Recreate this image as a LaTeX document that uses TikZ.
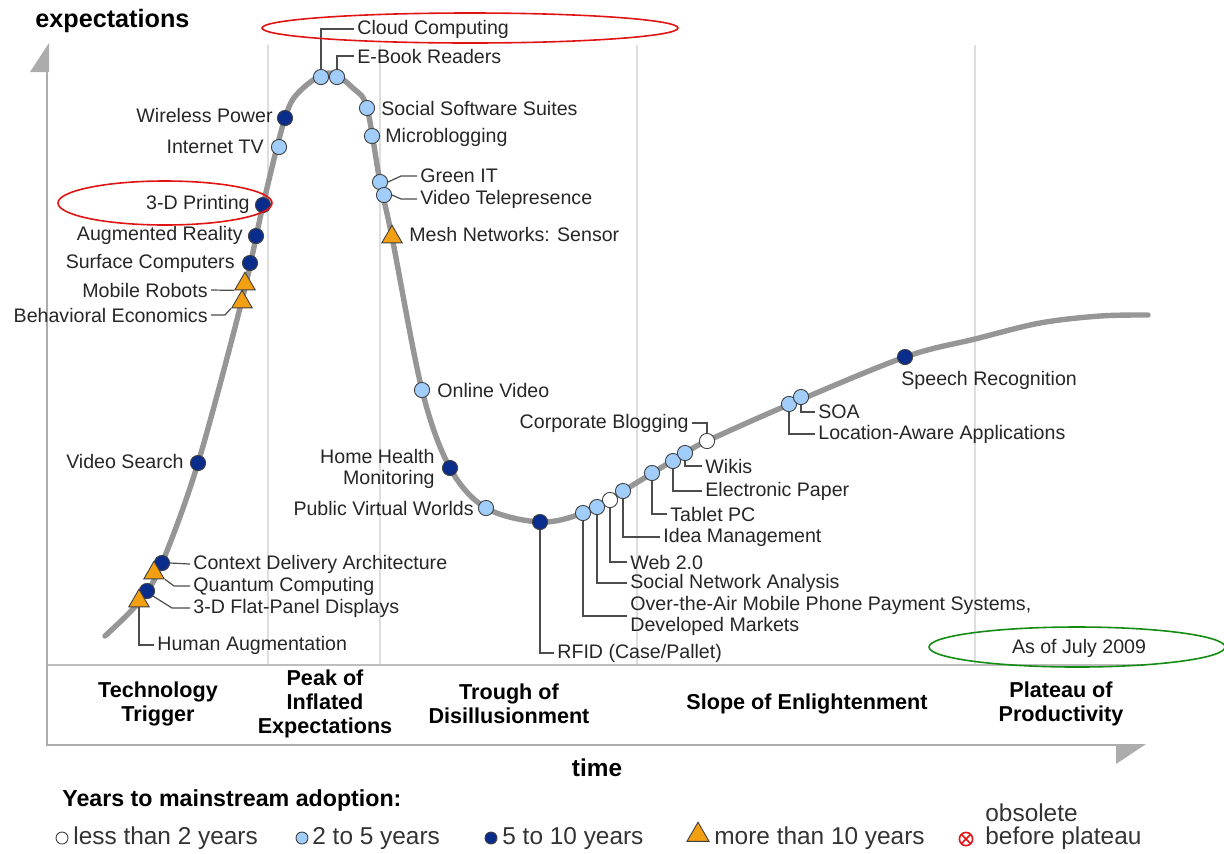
\documentclass[tikz,border=0pt]{standalone}
\usepackage{fontspec}
\setmainfont{Liberation Sans}
\usepackage{xcolor}
\usetikzlibrary{shapes.geometric}

\definecolor{curvegray}{RGB}{150,150,150}
\definecolor{axisgray}{RGB}{172,172,172}
\definecolor{sepgray}{RGB}{222,222,222}
\definecolor{lightdot}{RGB}{160,205,250}
\definecolor{darkdot}{RGB}{10,45,140}
\definecolor{tridot}{RGB}{242,160,18}
\definecolor{ringred}{RGB}{225,20,20}
\definecolor{ringgreen}{RGB}{20,140,20}

\tikzset{
  yrdot/.style={circle, draw=black!75, line width=0.45pt, inner sep=0pt, minimum size=7.6pt},
  yrtwo/.style={yrdot, fill=white},
  yrfive/.style={yrdot, fill=lightdot},
  yrten/.style={yrdot, fill=darkdot},
  yrmore/.style={regular polygon, regular polygon sides=3, draw=black!75, line width=0.45pt,
    fill=tridot, inner sep=0pt, minimum size=11.8pt},
  tag/.style={font=\fontsize{9.8}{10.8}\selectfont, text=black!85, inner sep=1.5pt},
  legtext/.style={font=\fontsize{12.2}{11.5}\selectfont, text=black!80, inner sep=0pt, anchor=west},
  phase/.style={font=\bfseries\fontsize{10.8}{12}\selectfont, align=center, inner sep=0pt},
  leader/.style={draw=black!70, line width=0.6pt},
  ring/.style={line width=0.8pt}
}

\begin{document}
\begin{tikzpicture}[x=0.5pt, y=-0.5pt]
  \useasboundingbox (0,0) rectangle (1224,853);

  % separators between the phases
  \foreach \sx in {268,380,637,975}
    \draw[sepgray, line width=1pt] (\sx,45) -- (\sx,665);

  % axes and phase box
  \draw[axisgray!80, line width=1pt] (46,665) -- (1145,665);
  \draw[axisgray, line width=1.4pt] (47,72) -- (47,745) -- (1116,745);
  \fill[axisgray] (30,72) -- (49,43) -- (49,72) -- cycle;
  \fill[axisgray] (1116,744) -- (1146,744) -- (1116,764) -- cycle;

  \node[font=\bfseries\fontsize{12.6}{14}\selectfont, anchor=west, inner sep=0pt] (ylab) at (35,21) {expectations};
  \node[font=\bfseries\fontsize{12.2}{14}\selectfont, inner sep=0pt] (xlab) at (597,768) {time};

  % phase names
  \node[phase] (trigger) at (158,704) {Technology\\Trigger};
  \node[phase] (peak) at (325,704) {Peak of\\Inflated\\Expectations};
  \node[phase] (trough) at (509,704) {Trough of\\Disillusionment};
  \node[phase] (slope) at (807,704) {Slope of Enlightenment};
  \node[phase] (plateau) at (1061,704) {Plateau of\\Productivity};

  % the hype curve
  \draw[curvegray, line width=2.7pt, line cap=round] plot[smooth, tension=0.55] coordinates {
    (105,636) (140,601) (162,563) (198,463) (242,300) (263,205) (285,118) (300,91)
    (329,73) (354,89) (367,108) (380,182) (392,237) (422,390) (450,468) (486,508)
    (540,522) (583,513) (623,491) (685,453) (707,441) (788,405) (905,357) (975,339)
    (1040,323) (1100,316) (1148,315)};

  % less than 2 years
  \node[yrtwo] (m-web) at (610,500) {};
  \node[yrtwo] (m-corp) at (707,441) {};
  % 2 to 5 years
  \node[yrfive] (m-internet) at (279,147) {};
  \node[yrfive] (m-cloud) at (321,77) {};
  \node[yrfive] (m-ebook) at (337,77) {};
  \node[yrfive] (m-social) at (367,108) {};
  \node[yrfive] (m-micro) at (372,136) {};
  \node[yrfive] (m-green) at (380,182) {};
  \node[yrfive] (m-tele) at (384,195) {};
  \node[yrfive] (m-onvideo) at (422,390) {};
  \node[yrfive] (m-pvw) at (486,508) {};
  \node[yrfive] (m-ota) at (583,513) {};
  \node[yrfive] (m-sna) at (597,507) {};
  \node[yrfive] (m-idea) at (623,491) {};
  \node[yrfive] (m-tablet) at (652,473) {};
  \node[yrfive] (m-epaper) at (673,461) {};
  \node[yrfive] (m-wikis) at (685,453) {};
  \node[yrfive] (m-loc) at (789,404) {};
  \node[yrfive] (m-soa) at (801,397) {};
  % 5 to 10 years
  \node[yrten] (m-flat) at (147,591) {};
  \node[yrten] (m-context) at (162,563) {};
  \node[yrten] (m-vsearch) at (198,463) {};
  \node[yrten] (m-surface) at (250,263) {};
  \node[yrten] (m-ar) at (256,236) {};
  \node[yrten] (m-print) at (263,205) {};
  \node[yrten] (m-wireless) at (285,118) {};
  \node[yrten] (m-homehealth) at (450,468) {};
  \node[yrten] (m-rfid) at (540,522) {};
  \node[yrten] (m-speech) at (905,357) {};
  % more than 10 years
  \node[yrmore] (m-human) at (139,601) {};
  \node[yrmore] (m-quantum) at (154,573) {};
  \node[yrmore] (m-behav) at (242,302) {};
  \node[yrmore] (m-mobile) at (245,284) {};
  \node[yrmore] (m-mesh) at (392,237) {};

  % labels, left of the curve
  \node[tag, anchor=east] (t-wireless) at (276,115) {Wireless Power};
  \node[tag, anchor=east] (t-internet) at (267,147) {Internet TV};
  \node[tag, anchor=east] (t-print) at (253,204) {3-D Printing};
  \node[tag, anchor=east] (t-ar) at (246,235) {Augmented Reality};
  \node[tag, anchor=east] (t-surface) at (238,263) {Surface Computers};
  \node[tag, anchor=east] (t-mobile) at (211,290) {Mobile Robots};
  \node[tag, anchor=east] (t-behav) at (211,315) {Behavioral Economics};
  \node[tag, anchor=east] (t-vsearch) at (187,461) {Video Search};
  \node[tag, anchor=east, align=right] (t-homehealth) at (438,469) {Home Health\\Monitoring};
  \node[tag, anchor=east] (t-pvw) at (477,508) {Public Virtual Worlds};
  \node[tag, anchor=east] (t-corp) at (692,423) {Corporate Blogging};

  % labels, right of the curve
  \node[tag, anchor=west] (t-cloud) at (354,29) {Cloud Computing};
  \node[tag, anchor=west] (t-ebook) at (354,56) {E-Book Readers};
  \node[tag, anchor=west] (t-social) at (378,108) {Social Software Suites};
  \node[tag, anchor=west] (t-micro) at (382,137) {Microblogging};
  \node[tag, anchor=west] (t-green) at (417,176) {Green IT};
  \node[tag, anchor=west] (t-tele) at (417,199) {Video Telepresence};
  \node[tag, anchor=west] (t-mesh) at (406,234) {Mesh Networks: Sensor};
  \node[tag, anchor=west] (t-onvideo) at (434,390) {Online Video};
  \node[tag, anchor=west] (t-context) at (190,564) {Context Delivery Architecture};
  \node[tag, anchor=west] (t-quantum) at (190,586) {Quantum Computing};
  \node[tag, anchor=west] (t-flat) at (190,608) {3-D Flat-Panel Displays};
  \node[tag, anchor=west] (t-human) at (154,645) {Human Augmentation};
  \node[tag, anchor=west] (t-rfid) at (554,653) {RFID (Case/Pallet)};
  \node[tag, anchor=west, align=left] (t-ota) at (627,616) {Over-the-Air Mobile Phone Payment Systems,\\Developed Markets};
  \node[tag, anchor=west] (t-sna) at (627,583) {Social Network Analysis};
  \node[tag, anchor=west] (t-web) at (627,562) {Web 2.0};
  \node[tag, anchor=west] (t-idea) at (660,537) {Idea Management};
  \node[tag, anchor=west] (t-tablet) at (667,514) {Tablet PC};
  \node[tag, anchor=west] (t-epaper) at (702,491) {Electronic Paper};
  \node[tag, anchor=west] (t-wikis) at (702,466) {Wikis};
  \node[tag, anchor=west] (t-soa) at (815,412) {SOA};
  \node[tag, anchor=west] (t-loc) at (815,434) {Location-Aware Applications};
  \node[tag, anchor=west] (t-speech) at (898,380) {Speech Recognition};
  \node[tag] (t-asof) at (1079,648) {As of July 2009};

  % leaders
  \draw[leader] (m-cloud.north) |- (t-cloud.west);
  \draw[leader] (m-ebook.north) |- (t-ebook.west);
  \draw[leader] (m-green.east) -- ([xshift=-8pt]t-green.west) -- (t-green.west);
  \draw[leader] (m-tele.east) -- ([xshift=-8pt]t-tele.west) -- (t-tele.west);
  \draw[leader] (t-mobile.east) -- (m-mobile.corner 2);
  \draw[leader] (t-behav.east) -- ([xshift=7pt]t-behav.east) -- (m-behav.corner 2);
  \draw[leader] (m-context.east) -- (t-context.west);
  \draw[leader] (m-quantum.corner 3) -- ([xshift=-8pt]t-quantum.west) -- (t-quantum.west);
  \draw[leader] (m-flat.-40) -- ([xshift=-9pt]t-flat.west) -- (t-flat.west);
  \draw[leader] (m-human.south) |- (t-human.west);
  \draw[leader] (t-corp.east) -| (m-corp.north);
  \foreach \k in {rfid,ota,sna,web,idea,tablet,epaper,wikis,soa,loc}
    \draw[leader] (m-\k.south) |- (t-\k.west);

  % legend
  \node[font=\bfseries\fontsize{11.6}{13}\selectfont, anchor=west, inner sep=0pt] (legtitle) at (62,800) {Years to mainstream adoption:};
  \node[yrtwo, minimum size=6pt] (k-two) at (62,838) {};
  \node[legtext] (kt-two) at (73,838) {less than 2 years};
  \node[yrfive, minimum size=6pt] (k-five) at (302,838) {};
  \node[legtext] (kt-five) at (312,838) {2 to 5 years};
  \node[yrten, minimum size=6pt] (k-ten) at (491,838) {};
  \node[legtext] (kt-ten) at (502,838) {5 to 10 years};
  \node[yrmore, minimum size=12.8pt] (k-more) at (698,835) {};
  \node[legtext] (kt-more) at (714,838) {more than 10 years};
  \node[circle, draw=ringred, line width=0.8pt, minimum size=6.6pt, inner sep=0pt,
    path picture={\draw[ringred, line width=0.8pt]
      (path picture bounding box.north west) -- (path picture bounding box.south east)
      (path picture bounding box.north east) -- (path picture bounding box.south west);}]
    (k-obs) at (966,839) {};
  \node[legtext, align=left] (kt-obs) at (985,827) {obsolete\\before plateau};

  % highlight rings
  \draw[ringred, ring] (470,28) ellipse [x radius=208, y radius=15];
  \draw[ringred, ring] (165,203) ellipse [x radius=107, y radius=22];
  \draw[ringgreen, ring] (1077,647) ellipse [x radius=148, y radius=20];
\end{tikzpicture}
\end{document}
